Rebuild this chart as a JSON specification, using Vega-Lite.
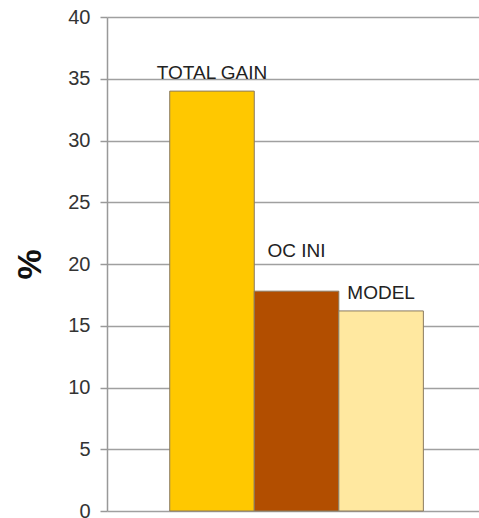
{
  "$schema": "https://vega.github.io/schema/vega-lite/v6.json",
  "width": 372,
  "height": 494,
  "autosize": {"type": "none"},
  "padding": {"left": 107, "top": 17, "right": 0, "bottom": 7},
  "background": "white",
  "config": {
    "view": {"stroke": null},
    "font": "Liberation Sans"
  },
  "data": {
    "values": [
      {"cat": "TOTAL GAIN", "value": 34.0},
      {"cat": "OC INI", "value": 17.8},
      {"cat": "MODEL", "value": 16.2}
    ]
  },
  "encoding": {
    "x": {
      "field": "cat", "type": "nominal", "sort": null,
      "scale": {"paddingInner": 0, "paddingOuter": 0.7, "align": 0.53},
      "axis": null
    },
    "y": {
      "field": "value", "type": "quantitative",
      "scale": {"domain": [0, 40], "nice": false},
      "axis": {
        "values": [0, 5, 10, 15, 20, 25, 30, 35, 40],
        "title": "%",
        "titleFontSize": 34,
        "titleFontWeight": "bold",
        "titleColor": "#111",
        "titlePadding": 20,
        "labelFontSize": 20,
        "labelColor": "#333",
        "labelPadding": 10,
        "tickSize": 7,
        "tickColor": "#999",
        "tickWidth": 1.5,
        "domainColor": "#999",
        "domainWidth": 1.5,
        "grid": true,
        "gridColor": "#a0a0a0",
        "gridWidth": 1.5
      }
    }
  },
  "layer": [
    {
      "mark": {"type": "bar", "stroke": "#8a7a60", "strokeWidth": 1},
      "encoding": {
        "color": {
          "field": "cat", "type": "nominal", "sort": null, "legend": null,
          "scale": {"domain": ["TOTAL GAIN", "OC INI", "MODEL"], "range": ["#FFC800", "#B24E00", "#FFE8A0"]}
        }
      }
    },
    {
      "transform": [{"filter": "datum.cat !== 'OC INI'"}],
      "mark": {"type": "text", "baseline": "alphabetic", "dy": -12, "fontSize": 19, "color": "#222"},
      "encoding": {"text": {"field": "cat"}}
    },
    {
      "transform": [{"filter": "datum.cat === 'OC INI'"}],
      "mark": {"type": "text", "baseline": "alphabetic", "dy": -34, "fontSize": 19, "color": "#222"},
      "encoding": {"text": {"field": "cat"}}
    }
  ]
}
